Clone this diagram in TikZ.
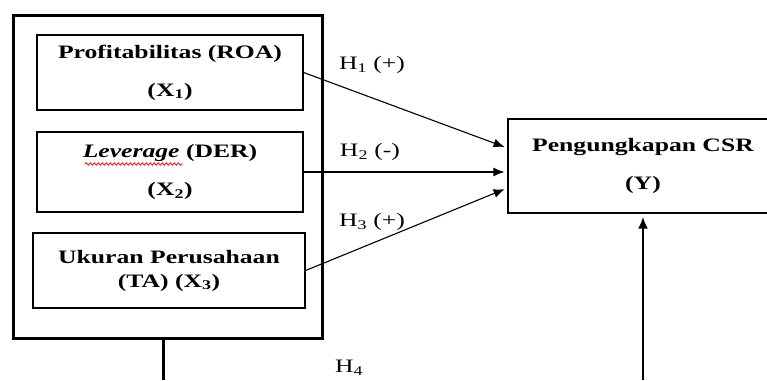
\documentclass[tikz,border=0pt]{standalone}
\usepackage{fontspec}
\setmainfont{Liberation Serif}[FakeStretch=1.35]
\usetikzlibrary{arrows.meta,decorations.pathmorphing}
\tikzset{
	varbox/.style={draw, line width=1.3pt, align=center, font=\fontsize{19}{23}\selectfont\bfseries, inner sep=0pt},
	hyp/.style={font=\fontsize{19}{23}\selectfont, inner sep=0pt},
	path/.style={line width=1.1pt, -{Latex[length=11pt,width=9pt]}, shorten >=3pt}
}
\begin{document}
\begin{tikzpicture}[x=1pt,y=-1pt]
	\useasboundingbox[fill=white] (0,0) rectangle (767,380);
	\node[draw, line width=3pt, minimum width=309pt, minimum height=323pt, inner sep=0pt] (frame) at (167.5,176.5) {};
	\node[varbox, minimum width=266pt, minimum height=75pt] (roa) at (170,72.5) {Profitabilitas (ROA)\\[15pt](X\textsubscript{1})};
	\node[varbox, minimum width=266pt, minimum height=80pt] (der) at (170,172) {\textit{Leverage} (DER)\\[15pt](X\textsubscript{2})};
	\node[varbox, minimum width=272pt, minimum height=75pt] (ta) at (169,270.5) {Ukuran Perusahaan\\[1pt](TA) (X\textsubscript{3})};
	\draw[red, line width=0.8pt, decorate, decoration={snake, segment length=4pt, amplitude=1.2pt}] (85,164) -- (183,164);
	\node[varbox, minimum width=270pt, minimum height=94pt] (csr) at (643,166) {Pengungkapan CSR\\[15pt](Y)};
	\draw[path] (roa.east) -- ([yshift=18pt]csr.west);
	\draw[path] (der.east) -- (der.east -| csr.west);
	\draw[path] (ta.east) -- ([yshift=-22pt]csr.west);
	\node[hyp] (h1) at (372,65) {H\textsubscript{1} (+)};
	\node[hyp] (h2) at (370,152) {H\textsubscript{2} (-)};
	\node[hyp] (h3) at (372,222) {H\textsubscript{3} (+)};
	\node[hyp] (h4) at (349,368) {H\textsubscript{4}};
	\coordinate (down) at (163,380);
	\coordinate (up) at (643,380);
	\draw[line width=3pt] ([xshift=-4.5pt]frame.south) -- (down);
	\draw[line width=2.5pt, -{Latex[length=12pt,width=10pt]}, shorten >=3pt] (up) -- (csr.south);
\end{tikzpicture}
\end{document}
